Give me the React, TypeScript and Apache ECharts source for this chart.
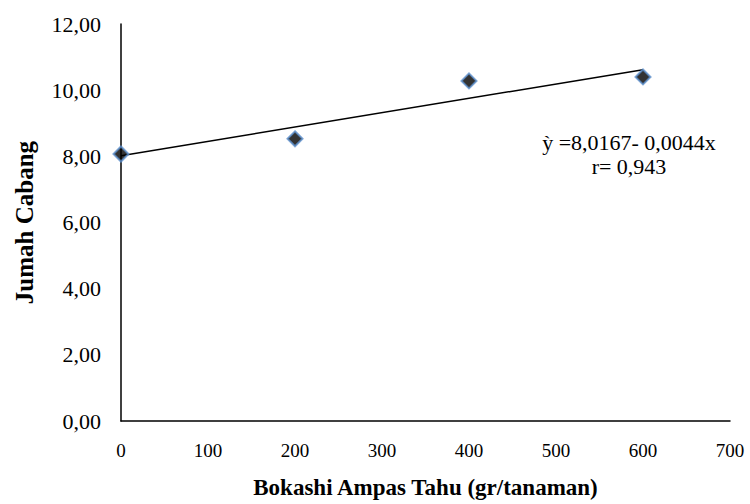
import React, { useEffect, useRef } from "react";
import * as echarts from "echarts";

const doses = [0, 200, 400, 600];
const branches = [8.07, 8.53, 10.28, 10.4];
const trendX = [0, 600];
const trendY = [8.02, 10.62];
const equationLines = ["ỳ =8,0167- 0,0044x", "r= 0,943"];
const xTitle = "Bokashi Ampas Tahu (gr/tanaman)";
const yTitle = "Jumah Cabang";

const FONT = "'Liberation Serif', 'Times New Roman', serif";

export default function App() {
  const ref = useRef<HTMLDivElement>(null);
  useEffect(() => {
    if (!ref.current) return;
    const chart = echarts.init(ref.current, null, { renderer: "svg" });
    chart.setOption({
      animation: false,
      backgroundColor: "#fff",
      grid: { left: 121, right: 20, top: 24, bottom: 81 },
      xAxis: {
        type: "value",
        min: 0,
        max: 700,
        interval: 100,
        axisLine: { show: true, lineStyle: { color: "#000", width: 1.5 } },
        axisTick: { show: false },
        splitLine: { show: false },
        axisLabel: { color: "#000", fontFamily: FONT, fontSize: 19, margin: 20 },
        name: xTitle,
        nameLocation: "middle",
        nameGap: 55,
        nameTextStyle: { color: "#000", fontFamily: FONT, fontSize: 23, fontWeight: "bold" },
      },
      yAxis: {
        type: "value",
        min: 0,
        max: 12,
        interval: 2,
        axisLine: { show: true, lineStyle: { color: "#000", width: 1.5 } },
        axisTick: { show: false },
        splitLine: { show: false },
        axisLabel: {
          color: "#000",
          fontFamily: FONT,
          fontSize: 22,
          margin: 20,
          formatter: (v: number) => v.toFixed(2).replace(".", ","),
        },
        name: yTitle,
        nameLocation: "middle",
        nameGap: 84,
        nameTextStyle: { color: "#000", fontFamily: FONT, fontSize: 25, fontWeight: "bold" },
      },
      series: [
        {
          type: "line",
          data: trendX.map((x, i) => [x, trendY[i]]),
          symbol: "none",
          lineStyle: { color: "#000", width: 1.5 },
          z: 2,
        },
        {
          type: "scatter",
          data: doses.map((x, i) => [x, branches[i]]),
          symbol: "diamond",
          symbolSize: 15,
          itemStyle: { color: "#000", borderColor: "#5b8fcc", borderWidth: 2 },
          z: 3,
        },
      ],
      graphic: equationLines.map((t, i) => ({
        type: "text",
        x: 629,
        y: 142 + i * 24,
        style: {
          text: t,
          fill: "#000",
          font: `22px ${FONT}`,
          align: "center",
          verticalAlign: "middle",
        },
      })),
    });
    return () => chart.dispose();
  }, []);
  return <div ref={ref} style={{ width: 750, height: 504, position: "absolute", left: 0, top: 0 }} />;
}
